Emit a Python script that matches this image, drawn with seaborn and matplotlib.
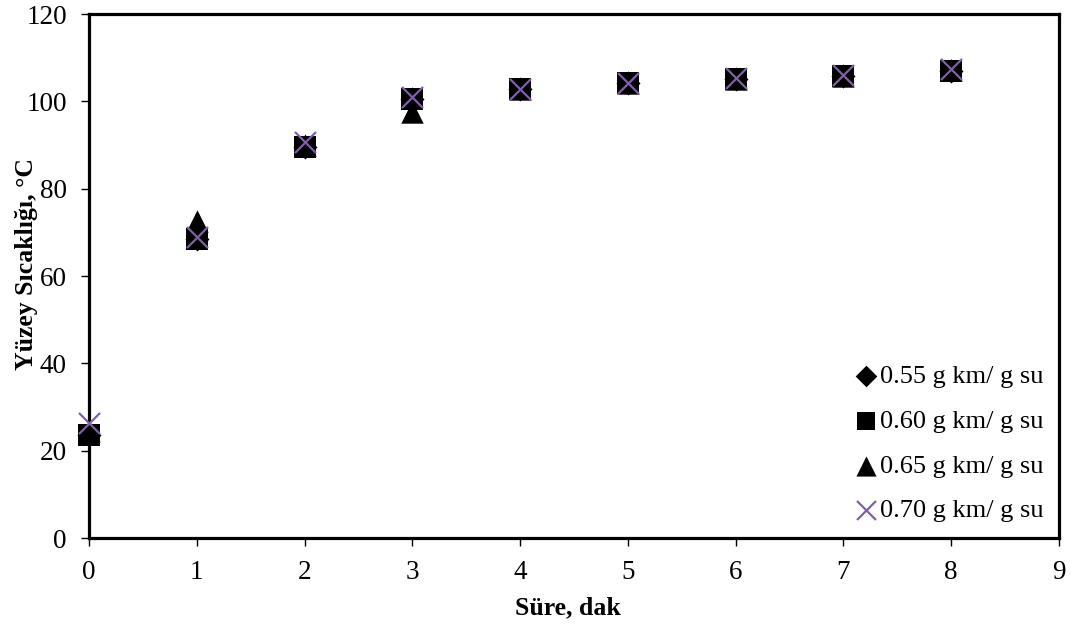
import matplotlib
matplotlib.use("Agg")
import matplotlib.pyplot as plt
import seaborn as sns
import pandas as pd

sns.set_theme(style="white")
plt.rcParams["font.family"] = ["Liberation Serif", "DejaVu Serif"]

# Surface temperature over drying time for four meat/water ratios
time_min = [0, 1, 2, 3, 4, 5, 6, 7, 8]
t_055 = [23.5, 68.5, 89.5, 100.6, 102.8, 104.3, 105.2, 105.9, 107.0]
t_060 = [23.5, 68.5, 89.5, 100.6, 102.8, 104.3, 105.2, 105.9, 107.0]
t_065 = [24.5, 72.5, 90.0, 97.5, 102.8, 104.3, 105.2, 105.9, 107.2]
t_070 = [26.3, 69.0, 90.8, 100.9, 102.8, 104.3, 105.3, 106.0, 107.4]
labels = ["0.55 g km/ g su", "0.60 g km/ g su", "0.65 g km/ g su", "0.70 g km/ g su"]

series = [t_055, t_060, t_065, t_070]

fig, ax = plt.subplots(figsize=(10.71, 6.27), dpi=100)
fig.subplots_adjust(left=89 / 1071, right=1059 / 1071, top=1 - 14 / 627, bottom=1 - 538 / 627)

styles = [
    dict(marker="D", s=150, color="black", linewidth=0),
    dict(marker="s", s=230, color="black", linewidth=0),
    dict(marker="^", s=260, color="black", linewidth=0),
    dict(marker="x", s=230, color="#7F60A8", linewidth=1.6),
]
for vals, lab, st in zip(series, labels, styles):
    df = pd.DataFrame({"x": time_min, "y": vals})
    sns.scatterplot(data=df, x="x", y="y", ax=ax, label=lab, zorder=3,
                    clip_on=False, **st)

ax.set_xlim(0, 9)
ax.set_ylim(0, 120)
ax.set_xticks(range(0, 10))
ax.set_yticks(range(0, 121, 20))
ax.tick_params(axis="both", which="major", direction="out", length=6, width=1,
               labelsize=19.5, colors="black", bottom=True, left=True)
ax.tick_params(axis="y", pad=10)
ax.tick_params(axis="x", pad=10)
for sp in ax.spines.values():
    sp.set_visible(True)
    sp.set_color("black")
    sp.set_linewidth(2.3)

ax.set_xlabel("Süre, dak", fontsize=18.5, fontweight="bold", color="black")
ax.set_ylabel("Yüzey Sıcaklığı, °C", fontsize=18.5, fontweight="bold", color="black")
ax.xaxis.set_label_coords(0.494, -0.112)
ax.yaxis.set_label_coords(-0.053, 0.523)

leg = ax.legend(loc="lower right", frameon=False, fontsize=19, markerscale=0.9,
                handletextpad=0.1, labelspacing=0.8, borderpad=0.0,
                borderaxespad=0.6, handlelength=0.8)
for t in leg.get_texts():
    t.set_color("black")

fig.savefig("out.png", dpi=100)
